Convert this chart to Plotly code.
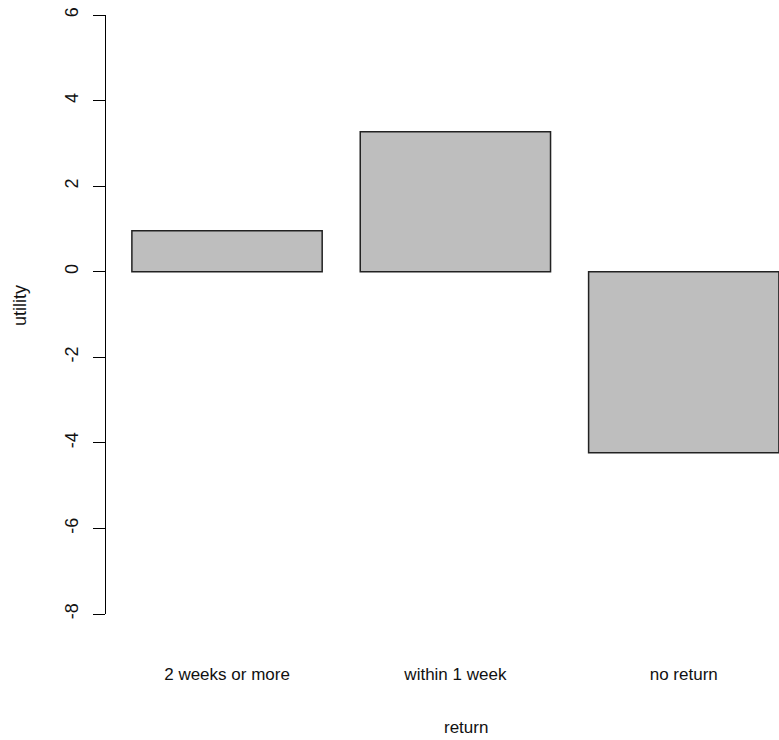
import plotly.graph_objects as go

categories = ["2 weeks or more", "within 1 week", "no return"]
utility = [0.96, 3.27, -4.23]
y_ticks = [6, 4, 2, 0, -2, -4, -6, -8]

# R barplot layout: width 1, space 0.2
bar_width = 1.0
space = 0.2
centers = [space + i * (bar_width + space) + bar_width / 2 for i in range(len(categories))]

W, H = 779, 740
left, top, bottom_px = 106, 15, 614
px_per_unit_x = 190.3
x0 = 0.064
x1 = x0 + (W - left) / px_per_unit_x

font = "Liberation Sans, Arial, sans-serif"

fig = go.Figure()
fig.add_trace(go.Bar(
    x=centers, y=utility, width=bar_width,
    marker=dict(color="#BEBEBE", line=dict(color="#222222", width=1.5)),
    showlegend=False, hoverinfo="skip",
))

fig.update_layout(
    width=W, height=H,
    margin=dict(l=left, r=0, t=top, b=H - bottom_px, pad=0),
    plot_bgcolor="white", paper_bgcolor="white",
    xaxis=dict(
        range=[x0, x1], tickmode="array", tickvals=centers, ticktext=categories,
        showline=False, showgrid=False, zeroline=False, ticks="",
        tickfont=dict(family=font, size=17, color="#111111"),
        ticklabelstandoff=48,
    ),
    yaxis=dict(
        range=[-8, 6], tickmode="array", tickvals=y_ticks,
        ticktext=[str(v) for v in y_ticks],
        showline=True, linecolor="black", linewidth=1,
        ticks="outside", ticklen=12, tickcolor="black", tickwidth=1,
        showgrid=False, zeroline=False, tickangle=-90,
        tickfont=dict(family=font, size=18, color="#111111"),
        ticklabelstandoff=8,
    ),
    annotations=[
        dict(text="return", xref="paper", yref="paper",
             x=(466 - left) / (W - left), y=-(727 - bottom_px) / (bottom_px - top),
             xanchor="center", yanchor="middle", showarrow=False,
             font=dict(family=font, size=17, color="#111111")),
        dict(text="utility", xref="paper", yref="paper",
             x=-(left - 20) / (W - left), y=(bottom_px - 306) / (bottom_px - top),
             xanchor="center", yanchor="middle", showarrow=False, textangle=-90,
             font=dict(family=font, size=18, color="#111111")),
    ],
)

fig.write_html("out.html", config={"displayModeBar": False},
               post_script="document.body.style.margin='0';")
